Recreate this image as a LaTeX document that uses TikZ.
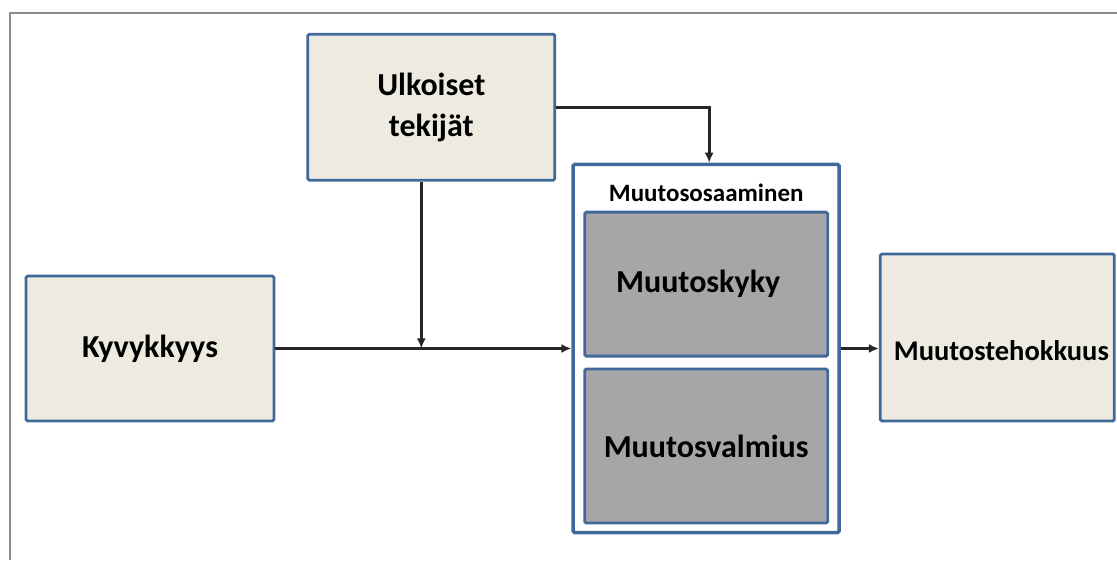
\documentclass[tikz,border=0pt]{standalone}
\usepackage{fontspec}
\setmainfont{Carlito}
\usetikzlibrary{arrows.meta,positioning}
\definecolor{boxfill}{HTML}{EDEBE0}
\definecolor{boxline}{HTML}{41689A}
\definecolor{innerfill}{HTML}{A6A6A6}
\definecolor{framegray}{HTML}{8C8C8C}
\definecolor{arrowdark}{HTML}{262626}
\begin{document}
\begin{tikzpicture}[
    x=1pt, y=1pt,
    >={Latex[length=10pt,width=9pt]},
    block/.style={draw=boxline, fill=boxfill, line width=2.8pt, rounded corners=1.5pt, align=center, inner sep=4pt, font=\bfseries\fontsize{32}{41}\selectfont},
    greyblock/.style={block, fill=innerfill, minimum width=243pt},
    group/.style={draw=boxline, fill=white, line width=3.5pt, rounded corners=1.5pt, minimum width=266pt, minimum height=368pt},
    grouptitle/.style={inner sep=1pt, font=\bfseries\fontsize{25}{29}\selectfont},
    line/.style={->, line width=2.8pt, draw=arrowdark}
]
\useasboundingbox (0,0) rectangle (1117,560);
% outer frame, cut off at the right and bottom
\draw[framegray, line width=2pt] (1117,547) -- (10,547) -- (10,0);

% left inputs
\node[block, minimum width=248pt, minimum height=145pt] (kyv) at (150,211.5) {Kyvykkyys};
\node[block, minimum width=247pt, minimum height=146pt, above right=93pt and 31pt of kyv] (ulk) {Ulkoiset\\tekijät};

% change competence group
\node[group, right=296pt of kyv] (osaam) {};
\node[grouptitle] (title) at ([yshift=-30pt]osaam.north) {Muutososaaminen};
\node[greyblock, minimum height=144pt, below=48pt of osaam.north] (kyky) {Muutoskyky\hspace*{16pt}};
\node[greyblock, minimum height=154pt, below=10pt of kyky] (valm) {Muutosvalmius};

% outcome
\node[block, minimum width=234pt, minimum height=167pt, text height=47pt, font=\bfseries\fontsize{28.5}{34}\selectfont, right=38pt of osaam, yshift=11pt] (teh) {\hspace*{8pt}Muutostehokkuus};

% arrows
\draw[line] (kyv.east) -- (osaam.west);
\draw[line] ([xshift=-10pt]ulk.south) -- ([xshift=-10pt]ulk.south |- kyv.east);
\draw[line] (ulk.east) -| ([xshift=3pt]osaam.north);
\draw[line] (osaam.east) -- (osaam.east -| teh.west);

\end{tikzpicture}
\end{document}
